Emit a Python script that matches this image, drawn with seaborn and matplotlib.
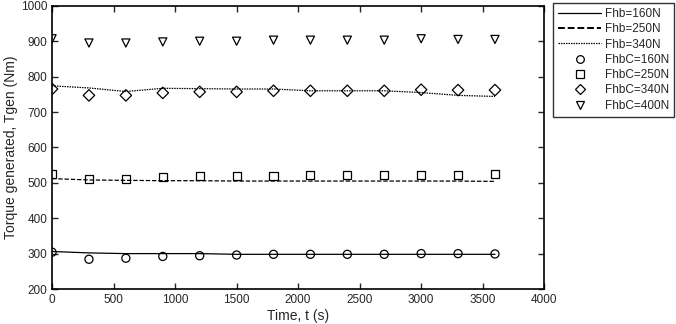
import numpy as np
import pandas as pd
import matplotlib
matplotlib.use("Agg")
import matplotlib.pyplot as plt
from matplotlib.lines import Line2D
import seaborn as sns

# Time points (s)
t = [0, 300, 600, 900, 1200, 1500, 1800, 2100, 2400, 2700, 3000, 3300, 3600]

# model curves (Fhb)
fhb_160 = [306, 302, 300, 300, 300, 298, 298, 298, 298, 298, 298, 298, 298]
fhb_250 = [512, 508, 507, 506, 506, 505, 505, 505, 505, 505, 505, 505, 504]
fhb_340 = [774, 768, 758, 767, 766, 765, 765, 760, 760, 760, 755, 747, 744]

# measured points (FhbC)
fhbc_160 = [304, 284, 287, 292, 294, 296, 298, 298, 298, 298, 300, 300, 299]
fhbc_250 = [525, 510, 510, 516, 518, 518, 518, 522, 522, 522, 522, 522, 525]
fhbc_340 = [765, 747, 747, 754, 757, 757, 760, 760, 760, 760, 763, 762, 762]
fhbc_400 = [907, 895, 895, 898, 900, 900, 903, 903, 903, 903, 907, 905, 905]

line_names = ["Fhb=160N", "Fhb=250N", "Fhb=340N"]
point_names = ["FhbC=160N", "FhbC=250N", "FhbC=340N", "FhbC=400N"]

line_dashes = {"Fhb=160N": "", "Fhb=250N": (3.5, 1.5), "Fhb=340N": (1.2, 0.8)}
point_markers = {"FhbC=160N": "o", "FhbC=250N": "s", "FhbC=340N": "D", "FhbC=400N": "v"}

lines_df = pd.DataFrame({
    "t": t * 3,
    "T": fhb_160 + fhb_250 + fhb_340,
    "series": sum([[n] * len(t) for n in line_names], []),
})
pts_df = pd.DataFrame({
    "t": t * 4,
    "T": fhbc_160 + fhbc_250 + fhbc_340 + fhbc_400,
    "series": sum([[n] * len(t) for n in point_names], []),
})

sns.set_style("ticks")
plt.rcParams["font.family"] = ["Liberation Sans", "DejaVu Sans"]

fig = plt.figure(figsize=(6.76, 3.24), dpi=100)
ax = fig.add_axes([0.077, 0.108, 0.728, 0.874])

sns.lineplot(data=lines_df, x="t", y="T", hue="series", style="series",
             palette=["black"] * 3, dashes=line_dashes,
             linewidth=0.9, ax=ax, legend=False)
sns.scatterplot(data=pts_df, x="t", y="T", hue="series", style="series",
                palette=["black"] * 4, markers=point_markers,
                s=34, linewidth=0.9, ax=ax, legend=False)
for coll in ax.collections:
    coll.set_facecolor("none")
    coll.set_edgecolor("black")

ax.set_xlim(0, 4000)
ax.set_ylim(200, 1000)
ax.set_xticks(range(0, 4001, 500))
ax.set_yticks(range(200, 1001, 100))
ax.tick_params(direction="in", top=True, right=True, labelsize=8.5, length=4, width=1)
for sp in ax.spines.values():
    sp.set_linewidth(1.2)
    sp.set_color("black")
ax.set_xlabel("Time, t (s)", fontsize=10, labelpad=2)
ax.set_ylabel("Torque generated, Tgen (Nm)", fontsize=10, labelpad=2)

handles = []
for n in line_names:
    d = line_dashes[n]
    h = Line2D([], [], color="black", linewidth=1.4 if n == "Fhb=250N" else 0.9)
    if d:
        h.set_dashes(d)
    handles.append(h)
for n in point_names:
    handles.append(Line2D([], [], linestyle="none", marker=point_markers[n],
                          markerfacecolor="none", markeredgecolor="black",
                          markersize=5.5, markeredgewidth=0.9))
leg = ax.legend(handles, line_names + point_names, loc="upper left",
                bbox_to_anchor=(0.818, 0.99), bbox_transform=fig.transFigure,
                frameon=True, fancybox=False, edgecolor="black", fontsize=8.5,
                handlelength=3.7, handletextpad=0.3, borderaxespad=0,
                labelspacing=0.28, borderpad=0.4)
leg.get_frame().set_linewidth(1)

fig.savefig("out.png", dpi=100)
